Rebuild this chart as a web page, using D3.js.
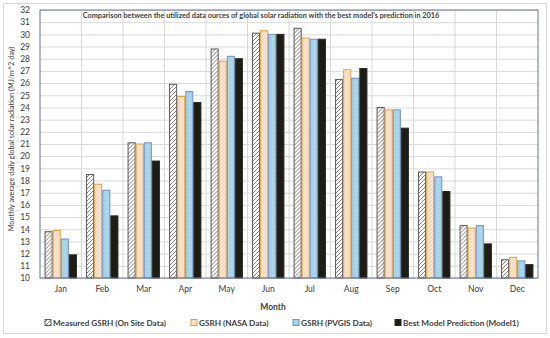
<!DOCTYPE html>
<html>
<head>
<meta charset="utf-8">
<script src="https://cdn.jsdelivr.net/npm/d3@7"></script>
<style>
  body { margin: 0; background: #fff; }
  svg text { font-family: Lato, "Open Sans", sans-serif; fill: #404040; }
</style>
</head>
<body>
<svg id="chart" width="550" height="338"></svg>
<script>
// monthly values
const months = ['Jan', 'Feb', 'Mar', 'Apr', 'May', 'Jun', 'Jul', 'Aug', 'Sep', 'Oct', 'Nov', 'Dec'];
const measured = [13.8, 18.5, 21.1, 25.9, 28.8, 30.1, 30.5, 26.3, 24.0, 18.7, 14.3, 11.5];
const nasa = [13.9, 17.7, 21.0, 24.9, 27.8, 30.3, 29.7, 27.1, 23.8, 18.7, 14.1, 11.7];
const pvgis = [13.2, 17.2, 21.1, 25.3, 28.2, 30.0, 29.6, 26.4, 23.8, 18.3, 14.3, 11.4];
const model = [11.9, 15.1, 19.6, 24.4, 28.0, 30.0, 29.6, 27.2, 22.3, 17.1, 12.8, 11.1];
const seriesNames = ['Measured GSRH (On Site Data)', 'GSRH (NASA Data)', 'GSRH (PVGIS Data)', 'Best Model Prediction (Model1)'];
const yTicks = d3.range(10, 33, 1);

const series = [measured, nasa, pvgis, model];
const fills = ['url(#hatch)', 'url(#peach)', 'url(#dots)', '#1d1d15'];
const strokes = ['#595959', '#e0a33c', '#6f8fc8', '#2a2a22'];

const svg = d3.select('#chart');
const margin = { top: 10, right: 12, bottom: 60, left: 40 };
const width = 550 - margin.left - margin.right;
const height = 338 - margin.top - margin.bottom;

// patterns
const defs = svg.append('defs');
const hatch = defs.append('pattern').attr('id', 'hatch').attr('patternUnits', 'userSpaceOnUse')
  .attr('width', 4).attr('height', 4);
hatch.append('rect').attr('width', 4).attr('height', 4).attr('fill', '#fff');
hatch.append('path').attr('d', 'M-1,5 L5,-1 M3,5 L5,3 M-1,1 L1,-1').attr('stroke', '#7a6a6a').attr('stroke-width', 0.9);

const peach = defs.append('pattern').attr('id', 'peach').attr('patternUnits', 'userSpaceOnUse')
  .attr('width', 4).attr('height', 4);
peach.append('rect').attr('width', 4).attr('height', 4).attr('fill', '#fbe3cf');
peach.append('path').attr('d', 'M-1,1 L1,-1 M-1,5 L5,-1 M3,5 L5,3').attr('stroke', '#f0c9a8').attr('stroke-width', 0.7);

const dots = defs.append('pattern').attr('id', 'dots').attr('patternUnits', 'userSpaceOnUse')
  .attr('width', 4).attr('height', 4);
dots.append('rect').attr('width', 4).attr('height', 4).attr('fill', '#a6d3e6');
dots.append('circle').attr('cx', 1).attr('cy', 1).attr('r', 0.5).attr('fill', '#e4f3fa');

// outer border
svg.append('rect').attr('x', 3.5).attr('y', 3.5).attr('width', 543).attr('height', 330)
  .attr('fill', 'none').attr('stroke', '#d9d9d9');

const g = svg.append('g').attr('transform', `translate(${margin.left},${margin.top})`);

const x0 = d3.scaleBand().domain(months).range([0, width]).paddingInner(0.22).paddingOuter(0.11);
const x1 = d3.scaleBand().domain(d3.range(series.length)).range([0, x0.bandwidth()]);
const y = d3.scaleLinear().domain([10, 32]).range([height, 0]);

// horizontal grid
g.append('g').attr('class', 'y-grid')
  .call(d3.axisLeft(y).tickValues(yTicks).tickSize(-width).tickFormat(''))
  .call(s => s.select('.domain').remove())
  .call(s => s.selectAll('line').attr('stroke', '#d9d9d9'));

// vertical grid between categories
const step = x0.step();
g.append('g').selectAll('line').data(d3.range(1, months.length)).join('line')
  .attr('x1', d => x0(months[d]) - x0.paddingInner() * step / 2)
  .attr('x2', d => x0(months[d]) - x0.paddingInner() * step / 2)
  .attr('y1', 0).attr('y2', height).attr('stroke', '#d9d9d9');

// bars
const groups = g.append('g').selectAll('g').data(months).join('g')
  .attr('transform', d => `translate(${x0(d)},0)`);
groups.selectAll('rect').data((d, i) => series.map((s, k) => ({ k, v: s[i] }))).join('rect')
  .attr('x', d => x1(d.k) + 0.5)
  .attr('width', x1.bandwidth() - 1)
  .attr('y', d => y(d.v))
  .attr('height', d => y(10) - y(d.v))
  .attr('fill', d => fills[d.k])
  .attr('stroke', d => strokes[d.k])
  .attr('stroke-width', 1);

// plot border
g.append('rect').attr('width', width).attr('height', height)
  .attr('fill', 'none').attr('stroke', '#6373aa').attr('stroke-width', 1);

// y axis labels
g.append('g').call(d3.axisLeft(y).tickValues(yTicks).tickSize(0).tickPadding(10))
  .call(s => s.select('.domain').remove())
  .call(s => s.selectAll('text').attr('font-size', 8.5).style('font-family', 'Lato, sans-serif').attr('fill', '#404040'));

// x axis labels
g.append('g').attr('transform', `translate(0,${height})`)
  .call(d3.axisBottom(x0).tickSize(0).tickPadding(8))
  .call(s => s.select('.domain').remove())
  .call(s => s.selectAll('text').attr('font-size', 8.5).style('font-family', 'Lato, sans-serif').attr('fill', '#404040'));

// title
svg.append('text').attr('x', 261).attr('y', 18).attr('text-anchor', 'middle')
  .attr('font-size', 7.3).attr('font-weight', 'bold')
  .text("Comparison between the utilized data ources of global solar radiation with the best model's prediction in 2016");

// axis titles
svg.append('text').attr('x', 273).attr('y', 310).attr('text-anchor', 'middle')
  .attr('font-size', 8.5).attr('font-weight', 'bold').text('Month');
svg.append('text').attr('transform', 'translate(14,139) rotate(-90)')
  .attr('text-anchor', 'middle').attr('font-size', 7.3)
  .text('Monthly average daily global solar radiation (MJ/m^2 day)');

// legend
const legendX = [45, 191, 293, 395];
const legend = svg.append('g').selectAll('g').data(seriesNames).join('g')
  .attr('transform', (d, i) => `translate(${legendX[i]},326)`);
legend.append('rect').attr('x', 0).attr('y', -6.5).attr('width', 6).attr('height', 6)
  .attr('fill', (d, i) => fills[i]).attr('stroke', (d, i) => strokes[i]);
legend.append('text').attr('x', 8).attr('y', 0).attr('font-size', 8.2).attr('font-weight', 'bold')
  .text(d => d);
</script>
</body>
</html>
